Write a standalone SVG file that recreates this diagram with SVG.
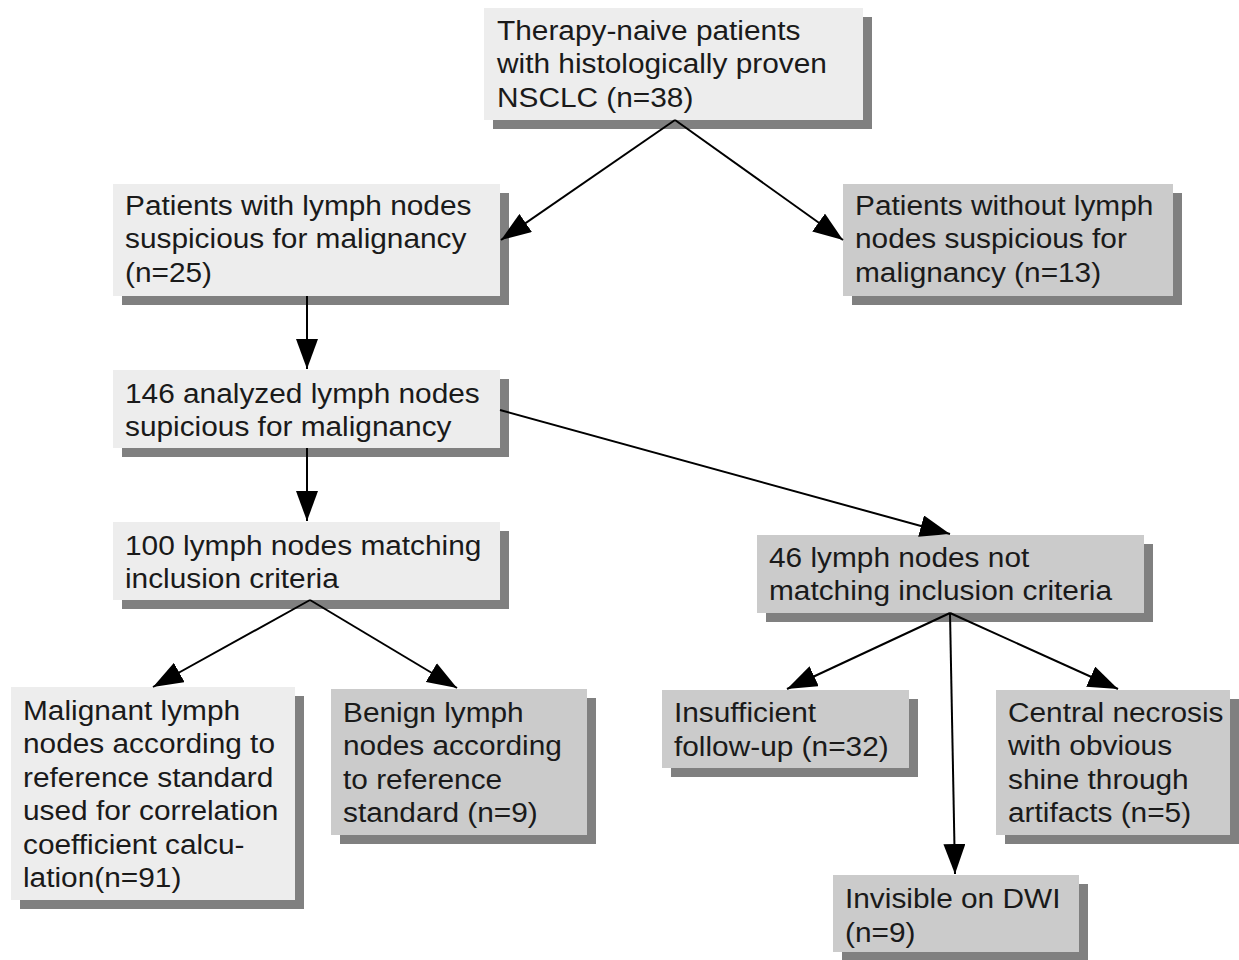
<svg xmlns="http://www.w3.org/2000/svg" width="1239" height="960" viewBox="0 0 1239 960">
<style>
.sh{fill:#808080}
.lt{fill:#ededed}
.dk{fill:#cbcbcb}
text{font-family:"Liberation Sans",Arial,sans-serif;font-size:27px;fill:#1a1a1a}
.cn line{stroke:#000;stroke-width:2}
</style>
<defs>
<marker id="ah" markerUnits="userSpaceOnUse" markerWidth="30" markerHeight="22" refX="30" refY="11" orient="auto"><path d="M0,0 L30,11 L0,22 z" fill="#000"/></marker>
</defs>
<rect width="1239" height="960" fill="#fff"/>
<g id="n1"><rect class="sh" x="493" y="17" width="379" height="112"/><rect class="lt" x="484" y="8" width="379" height="112"/>
<text transform="translate(497,40) scale(1.105,1)"><tspan x="0" y="0">Therapy-naive patients</tspan><tspan x="0" y="33.5">with histologically proven</tspan><tspan x="0" y="67">NSCLC (n=38)</tspan></text></g>
<g id="n2"><rect class="sh" x="122" y="193" width="387" height="112"/><rect class="lt" x="113" y="184" width="387" height="112"/>
<text transform="translate(125,215) scale(1.105,1)"><tspan x="0" y="0">Patients with lymph nodes</tspan><tspan x="0" y="33.5">suspicious for malignancy</tspan><tspan x="0" y="67">(n=25)</tspan></text></g>
<g id="n3"><rect class="sh" x="852" y="193" width="330" height="112"/><rect class="dk" x="843" y="184" width="330" height="112"/>
<text transform="translate(855,215) scale(1.105,1)"><tspan x="0" y="0">Patients without lymph</tspan><tspan x="0" y="33.5">nodes suspicious for</tspan><tspan x="0" y="67">malignancy (n=13)</tspan></text></g>
<g id="n4"><rect class="sh" x="122" y="379" width="387" height="78"/><rect class="lt" x="113" y="370" width="387" height="78"/>
<text transform="translate(125,403) scale(1.105,1)"><tspan x="0" y="0">146 analyzed lymph nodes</tspan><tspan x="0" y="33">supicious for malignancy</tspan></text></g>
<g id="n5"><rect class="sh" x="122" y="531" width="387" height="78"/><rect class="lt" x="113" y="522" width="387" height="78"/>
<text transform="translate(125,555) scale(1.105,1)"><tspan x="0" y="0">100 lymph nodes matching</tspan><tspan x="0" y="33">inclusion criteria</tspan></text></g>
<g id="n6"><rect class="sh" x="766" y="544" width="387" height="78"/><rect class="dk" x="757" y="535" width="387" height="78"/>
<text transform="translate(769,567) scale(1.105,1)"><tspan x="0" y="0">46 lymph nodes not</tspan><tspan x="0" y="33">matching inclusion criteria</tspan></text></g>
<g id="n7"><rect class="sh" x="20" y="696" width="284" height="213"/><rect class="lt" x="11" y="687" width="284" height="213"/>
<text transform="translate(23,720) scale(1.105,1)"><tspan x="0" y="0">Malignant lymph</tspan><tspan x="0" y="33.4">nodes according to</tspan><tspan x="0" y="66.8">reference standard</tspan><tspan x="0" y="100.2">used for correlation</tspan><tspan x="0" y="133.6">coefficient calcu-</tspan><tspan x="0" y="167">lation(n=91)</tspan></text></g>
<g id="n8"><rect class="sh" x="340" y="698" width="256" height="146"/><rect class="dk" x="331" y="689" width="256" height="146"/>
<text transform="translate(343,722) scale(1.105,1)"><tspan x="0" y="0">Benign lymph</tspan><tspan x="0" y="33.4">nodes according</tspan><tspan x="0" y="66.8">to reference</tspan><tspan x="0" y="100.2">standard (n=9)</tspan></text></g>
<g id="n9"><rect class="sh" x="671" y="699" width="247" height="78"/><rect class="dk" x="662" y="690" width="247" height="78"/>
<text transform="translate(674,722) scale(1.105,1)"><tspan x="0" y="0">Insufficient</tspan><tspan x="0" y="34">follow-up (n=32)</tspan></text></g>
<g id="n10"><rect class="sh" x="1005" y="699" width="234" height="145"/><rect class="dk" x="996" y="690" width="234" height="145"/>
<text transform="translate(1008,722) scale(1.105,1)"><tspan x="0" y="0">Central necrosis</tspan><tspan x="0" y="33.4">with obvious</tspan><tspan x="0" y="66.8">shine through</tspan><tspan x="0" y="100.2">artifacts (n=5)</tspan></text></g>
<g id="n11"><rect class="sh" x="842" y="884" width="246" height="77"/><rect class="dk" x="833" y="875" width="246" height="77"/>
<text transform="translate(845,908) scale(1.105,1)"><tspan x="0" y="0">Invisible on DWI</tspan><tspan x="0" y="34">(n=9)</tspan></text></g>
<g id="connectors" class="cn">
<line x1="675" y1="120" x2="501" y2="240" marker-end="url(#ah)"/>
<line x1="675" y1="120" x2="843" y2="240" marker-end="url(#ah)"/>
<line x1="307" y1="296" x2="307" y2="369" marker-end="url(#ah)"/>
<line x1="500" y1="410" x2="950" y2="534" marker-end="url(#ah)"/>
<line x1="307" y1="448" x2="307" y2="521" marker-end="url(#ah)"/>
<line x1="310" y1="600" x2="153" y2="687" marker-end="url(#ah)"/>
<line x1="310" y1="600" x2="457" y2="688" marker-end="url(#ah)"/>
<line x1="950" y1="613" x2="787" y2="689" marker-end="url(#ah)"/>
<line x1="950" y1="613" x2="955" y2="874" marker-end="url(#ah)"/>
<line x1="950" y1="613" x2="1118" y2="689" marker-end="url(#ah)"/>
</g>
</svg>
